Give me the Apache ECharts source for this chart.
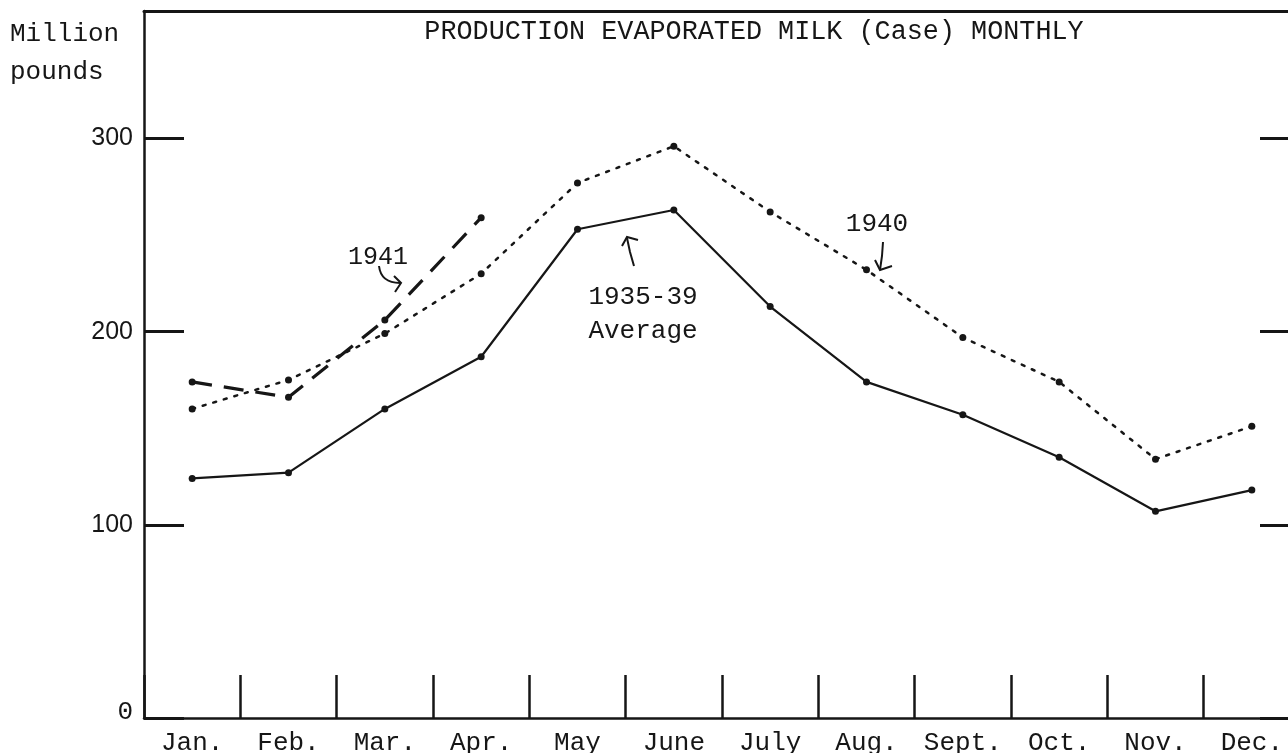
<!DOCTYPE html>
<html>
<head>
<meta charset="utf-8">
<script src="https://cdn.jsdelivr.net/npm/echarts@6/dist/echarts.min.js"></script>
<style>
  html, body { margin: 0; padding: 0; background: #fff; }
  #chart { width: 1288px; height: 753px; }
</style>
</head>
<body>
<div id="chart"></div>
<script>
// months along the bottom
const months = ["Jan.", "Feb.", "Mar.", "Apr.", "May", "June", "July", "Aug.", "Sept.", "Oct.", "Nov.", "Dec."];
// million pounds
const avg3539 = [124, 127, 160, 187, 253, 263, 213, 174, 157, 135, 107, 118];
const y1940 = [160, 175, 199, 230, 277, 296, 262, 232, 197, 174, 134, 151];
const y1941 = [174, 166, 206, 259];
const yTicks = [0, 100, 200, 300];

const INK = "#161616";
const MONO = "'Liberation Mono', 'DejaVu Sans Mono', monospace";
const SANS = "'Liberation Sans', Arial, sans-serif";

const chart = echarts.init(document.getElementById("chart"), null, { renderer: "canvas" });

const option = {
    backgroundColor: "#fff",
    animation: false,
    grid: { left: 144, top: 11, width: 1156, height: 707, outerBoundsMode: "none", containLabel: false },
    xAxis: [
        {
            type: "category",
            data: months,
            boundaryGap: true,
            axisLine: { show: true, onZero: false, lineStyle: { color: INK, width: 2.5 } },
            axisTick: { show: true, inside: true, length: 43, lineStyle: { color: INK, width: 2.5 } },
            axisLabel: { color: INK, fontFamily: MONO, fontSize: 26, margin: 12, interval: 0 },
            splitLine: { show: false }
        },
        {
            type: "category",
            data: months,
            position: "top",
            axisLine: { show: true, onZero: false, lineStyle: { color: INK, width: 3 } },
            axisTick: { show: false },
            axisLabel: { show: false },
            splitLine: { show: false }
        }
    ],
    yAxis: [
        {
            type: "value",
            min: 0,
            max: 366,
            interval: 100,
            axisLine: { show: true, onZero: false, lineStyle: { color: INK, width: 2.5 } },
            axisTick: { show: true, inside: true, length: 40, lineStyle: { color: INK, width: 3 } },
            axisLabel: {
                color: INK,
                fontFamily: SANS,
                fontSize: 25,
                margin: 11,
                formatter: v => (yTicks.includes(v) ? (v === 0 ? "{z|0}" : String(v)) : ""),
                rich: { z: { fontFamily: MONO, fontSize: 26, color: INK, padding: [0, 0, 12, 0] } }
            },
            splitLine: { show: false }
        },
        {
            type: "value",
            position: "right",
            min: 0,
            max: 366,
            interval: 100,
            axisLine: { show: false },
            axisTick: { show: true, inside: true, length: 40, lineStyle: { color: INK, width: 3 } },
            axisLabel: { show: false },
            splitLine: { show: false }
        }
    ],
    series: [
        {
            name: "1935-39 Average",
            type: "line",
            data: avg3539,
            symbol: "circle",
            symbolSize: 7,
            itemStyle: { color: INK },
            lineStyle: { color: INK, width: 2.2 }
        },
        {
            name: "1940",
            type: "line",
            data: y1940,
            symbol: "circle",
            symbolSize: 7,
            itemStyle: { color: INK },
            lineStyle: { color: INK, width: 2.5, type: [3, 8], cap: "round" }
        },
        {
            name: "1941",
            type: "line",
            data: y1941,
            symbol: "circle",
            symbolSize: 7,
            itemStyle: { color: INK },
            lineStyle: { color: INK, width: 3.2, type: [20, 12] }
        }
    ],
    graphic: [
        { type: "text", left: 10, top: 15, style: { text: "Million\npounds", font: "26px " + MONO, fill: INK, lineHeight: 38 } },
        { type: "text", x: 754, y: 32, style: { text: "PRODUCTION EVAPORATED MILK (Case) MONTHLY", font: "26.8px " + MONO, fill: INK, align: "center", verticalAlign: "middle" } },
        { type: "text", x: 378, y: 257, style: { text: "1941", font: "25px " + MONO, fill: INK, align: "center", verticalAlign: "middle" } },
        { type: "text", x: 643, y: 297, style: { text: "1935-39", font: "26px " + MONO, fill: INK, align: "center", verticalAlign: "middle" } },
        { type: "text", x: 643, y: 331, style: { text: "Average", font: "26px " + MONO, fill: INK, align: "center", verticalAlign: "middle" } },
        { type: "text", x: 877, y: 224, style: { text: "1940", font: "26px " + MONO, fill: INK, align: "center", verticalAlign: "middle" } },
        // hand drawn arrows
        { type: "bezierCurve", shape: { x1: 379, y1: 266, x2: 400, y2: 283, cpx1: 381, cpy1: 283 }, style: { stroke: INK, lineWidth: 2, fill: null } },
        { type: "polyline", shape: { points: [[394, 276], [401, 283], [395, 292]] }, style: { stroke: INK, lineWidth: 2, fill: null } },
        { type: "polyline", shape: { points: [[634, 266], [630, 252], [627, 238]] }, style: { stroke: INK, lineWidth: 2, fill: null } },
        { type: "polyline", shape: { points: [[622, 246], [627, 237], [638, 240]] }, style: { stroke: INK, lineWidth: 2, fill: null } },
        { type: "polyline", shape: { points: [[883, 242], [882, 256], [880, 270]] }, style: { stroke: INK, lineWidth: 2, fill: null } },
        { type: "polyline", shape: { points: [[875, 260], [880, 270], [892, 266]] }, style: { stroke: INK, lineWidth: 2, fill: null } }
    ]
};

chart.setOption(option);
</script>
</body>
</html>
